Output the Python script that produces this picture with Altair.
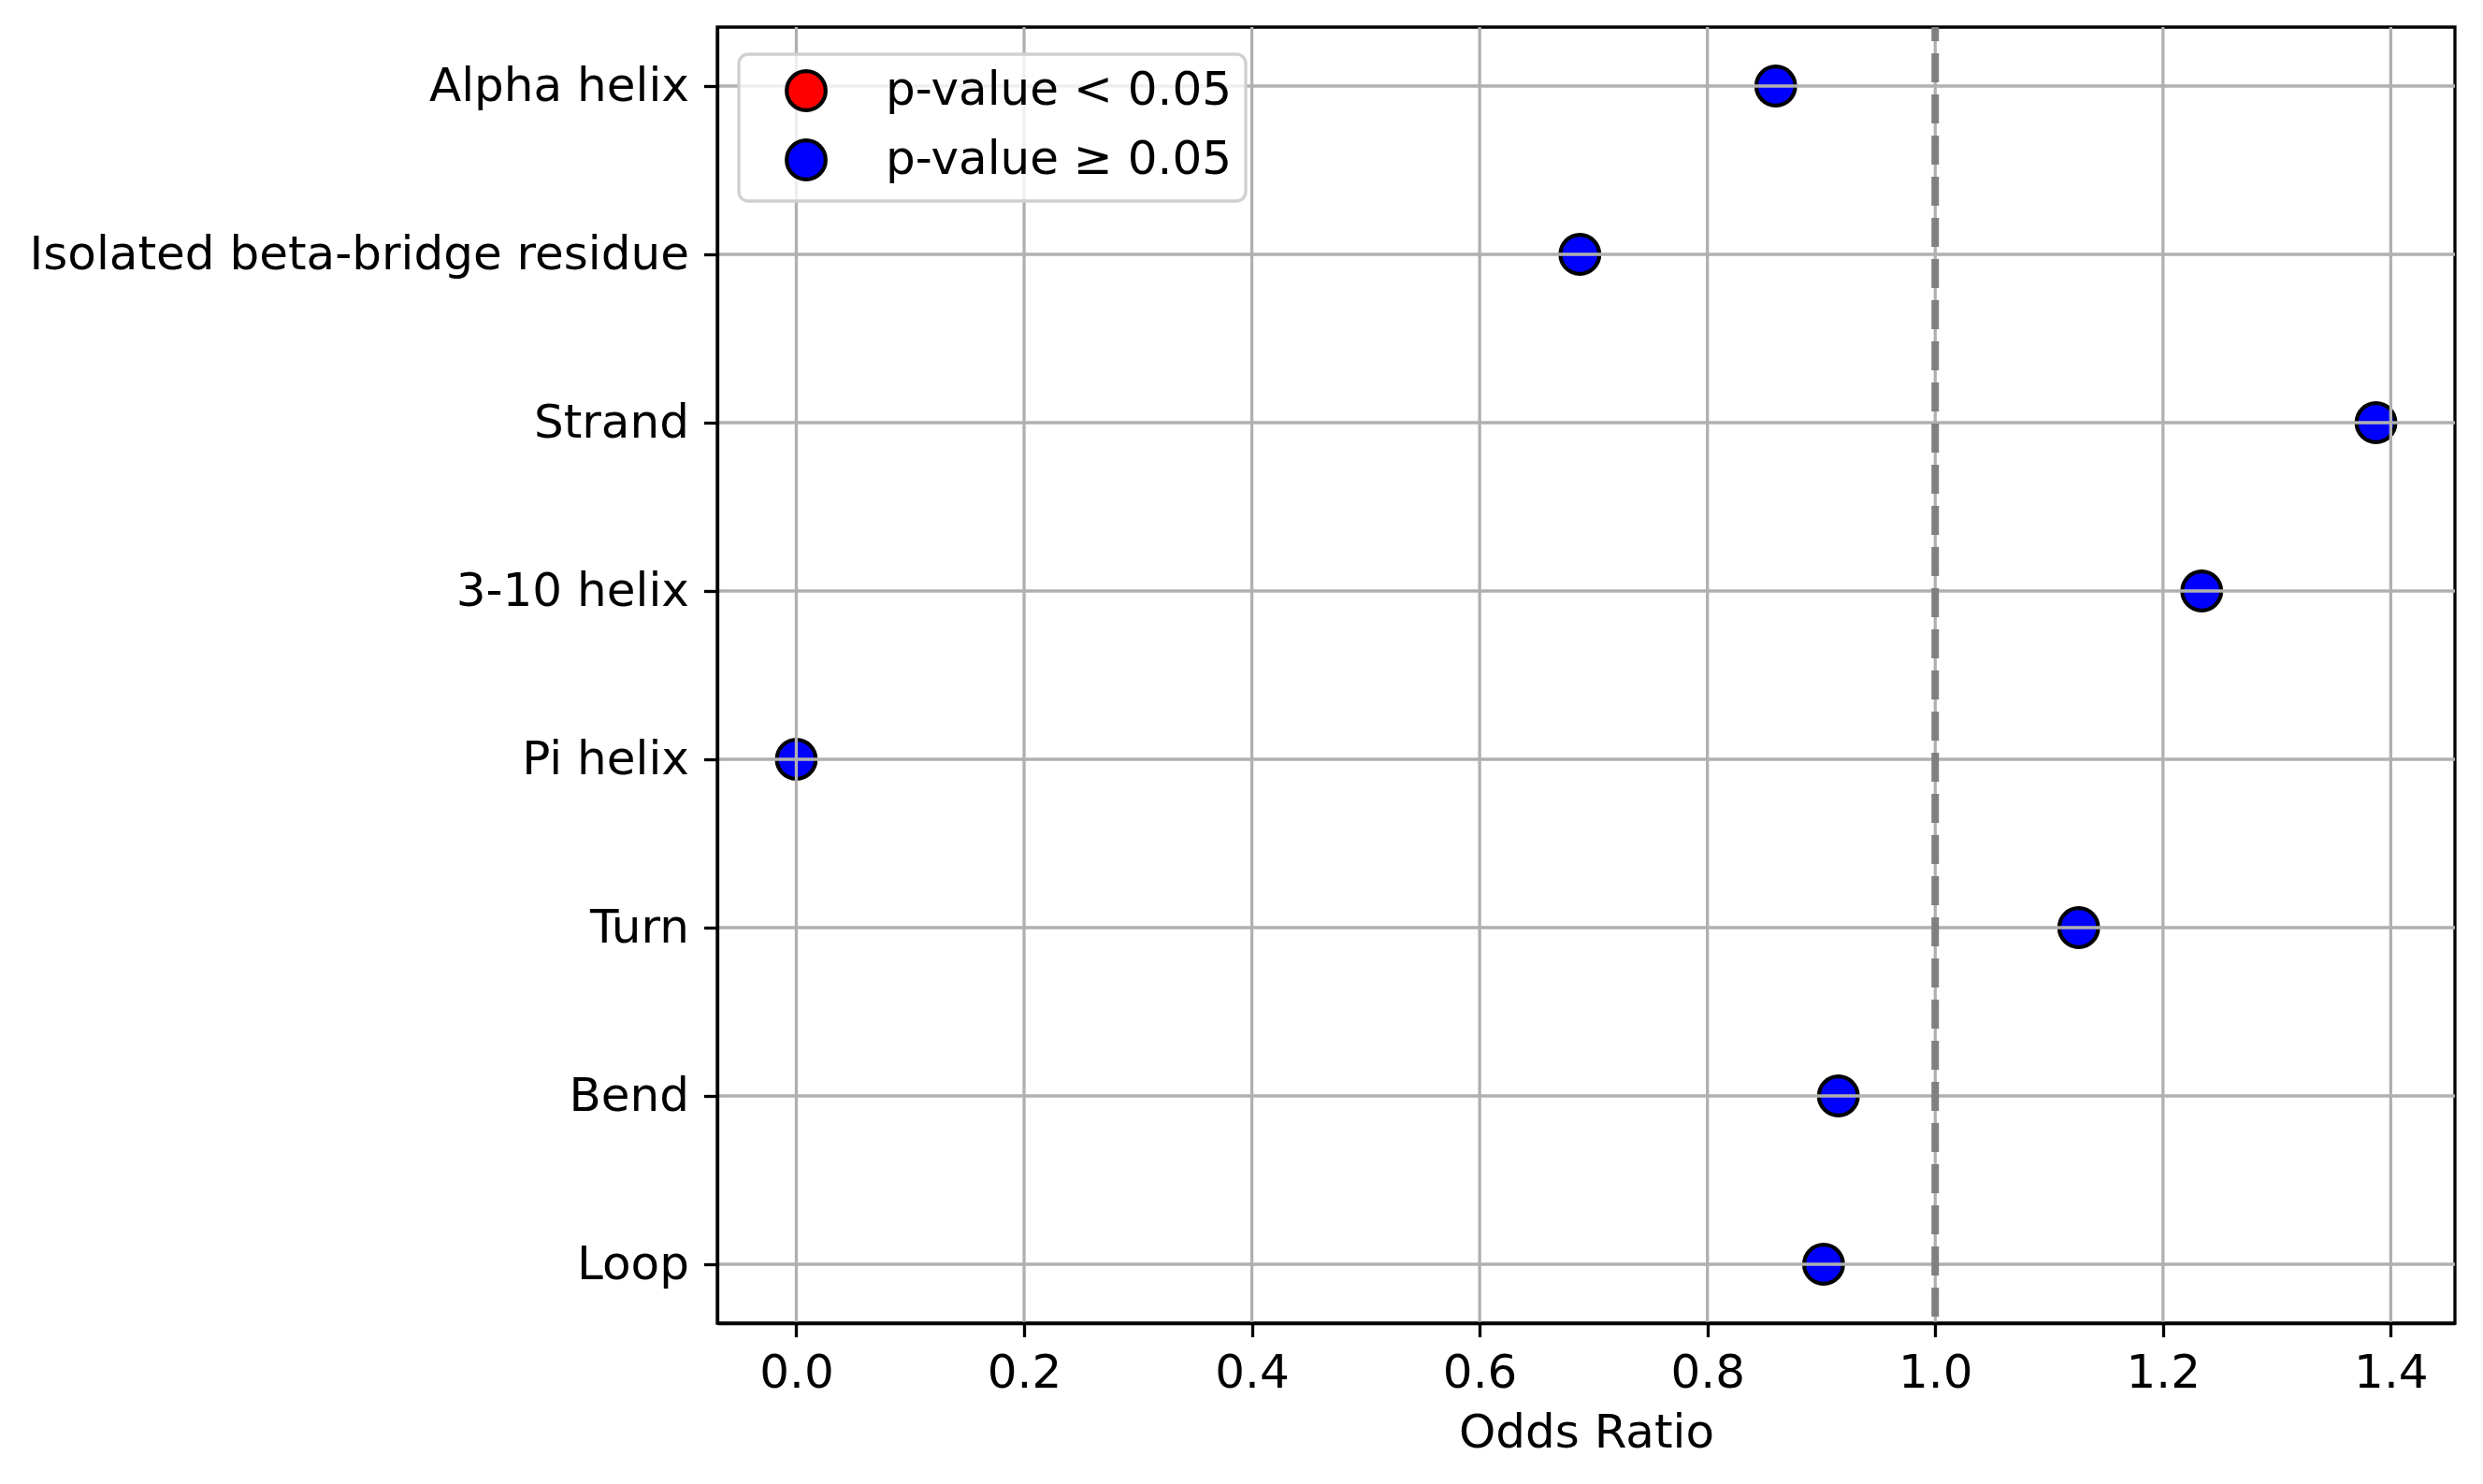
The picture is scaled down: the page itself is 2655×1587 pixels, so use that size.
import altair as alt
import pandas as pd

categories = ["Alpha helix", "Isolated beta-bridge residue", "Strand", "3-10 helix",
              "Pi helix", "Turn", "Bend", "Loop"]
odds_ratios = [0.860, 0.688, 1.387, 1.234, 0.000, 1.126, 0.915, 0.902]
significance = ["p-value ≥ 0.05", "p-value ≥ 0.05", "p-value ≥ 0.05", "p-value ≥ 0.05",
                "p-value ≥ 0.05", "p-value ≥ 0.05", "p-value ≥ 0.05", "p-value ≥ 0.05"]
legend_labels = ["p-value < 0.05", "p-value ≥ 0.05"]
legend_colors = ["#ff0000", "#0000ff"]
x_ticks = [0.0, 0.2, 0.4, 0.6, 0.8, 1.0, 1.2, 1.4]
reference_line = [1.0]

FONT = "DejaVu Sans"
FS = 50
LW = 3.3

df = pd.DataFrame({"category": categories, "odds": odds_ratios, "sig": significance})
grid_x = pd.DataFrame({"v": x_ticks})
grid_y = pd.DataFrame({"category": categories})
ref_df = pd.DataFrame({"v": reference_line})

lo, hi = min(odds_ratios), max(odds_ratios)
m = 0.05 * (hi - lo)
xscale = alt.Scale(domain=[lo - m, hi + m], nice=False, zero=False)
yscale = alt.Scale(type="point", padding=0.35, domain=categories)

xaxis = alt.Axis(values=x_ticks, format=".1f", title="Odds Ratio", grid=False,
                 zindex=1, domainColor="black", domainWidth=LW, tickColor="black",
                 tickWidth=LW, tickSize=14.6, labelPadding=14, labelFont=FONT,
                 labelFontSize=FS, labelColor="black", titleFont=FONT,
                 titleFontSize=FS, titleFontWeight="normal", titleColor="black",
                 titlePadding=14, labelFlush=False)
yaxis = alt.Axis(title=None, grid=False, zindex=1, domainColor="black", domainWidth=LW,
                 tickColor="black", tickWidth=LW, tickSize=14.6, labelPadding=16,
                 labelFont=FONT, labelFontSize=FS, labelColor="black", labelLimit=2000)

points = alt.Chart(df).mark_circle(size=1736, opacity=1, stroke="black",
                                   strokeWidth=4.2).encode(
    x=alt.X("odds:Q", scale=xscale, axis=xaxis),
    y=alt.Y("category:N", scale=yscale, sort=categories, axis=yaxis),
    color=alt.Color("sig:N", scale=alt.Scale(domain=legend_labels, range=legend_colors),
                    legend=alt.Legend(title=None, orient="none", legendX=23, legendY=29,
                                      fillColor="rgba(255,255,255,0.8)",
                                      strokeColor="#d0d0d0", cornerRadius=10,
                                      padding=14, labelFont=FONT, labelFontSize=FS,
                                      labelColor="black", labelLimit=2000,
                                      symbolType="circle", symbolSize=1736,
                                      symbolStrokeColor="black", symbolStrokeWidth=4.2,
                                      symbolOpacity=1, symbolOffset=33,
                                      labelOffset=60, rowPadding=14)),
)

gx = alt.Chart(grid_x).mark_rule(color="#b0b0b0", strokeWidth=LW).encode(
    x=alt.X("v:Q", scale=xscale))
gy = alt.Chart(grid_y).mark_rule(color="#b0b0b0", strokeWidth=LW).encode(
    y=alt.Y("category:N", scale=yscale, sort=categories))
ref = alt.Chart(ref_df).mark_rule(color="#808080", strokeWidth=8,
                                  strokeDash=[31, 13], strokeDashOffset=16).encode(
    x=alt.X("v:Q", scale=xscale))

chart = alt.layer(points, gx, gy, ref).properties(
    width=1858, height=1386,
    autosize=alt.AutoSizeParams(type="none"),
    padding={"left": 759, "top": 21, "right": 10, "bottom": 150},
    background="white",
).configure_view(stroke="black", strokeWidth=LW).configure_legend(strokeWidth=LW)

chart.save("out.html", embed_options={"renderer": "svg", "actions": False})
